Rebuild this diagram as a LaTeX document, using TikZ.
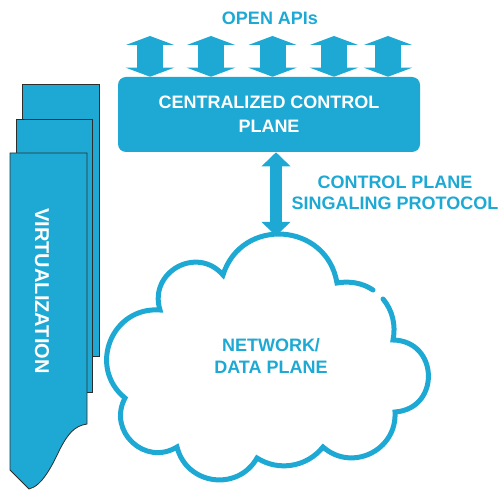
\documentclass[tikz,border=0pt]{standalone}
\usepackage{fontspec}
\setmainfont{Liberation Sans}
\usetikzlibrary{arrows.meta}
\definecolor{sdnblue}{RGB}{29,169,211}

\begin{document}
\begin{tikzpicture}[x=0.75pt,y=0.75pt,yscale=-1,xscale=1,
  bluetext/.style={text=sdnblue,align=center,inner sep=0pt},
  ctrlbox/.style={fill=sdnblue,text=white,rounded corners=6pt,minimum width=226.5pt,minimum height=56.25pt,align=center,inner sep=0pt},
  panel/.style={fill=sdnblue,draw={rgb, 255:red, 45; green, 45; blue, 45 },line width=0.6pt},
  apiarrow/.style={draw=sdnblue,line width=19.5pt,{Triangle[length=6.75pt,width=36pt]}-{Triangle[length=6.75pt,width=36pt]}},
  sigarrow/.style={draw=sdnblue,line width=9pt,{Triangle[length=10.5pt,width=21pt]}-{Triangle[length=10.5pt,width=21pt]}},
  cloudline/.style={draw=sdnblue,line width=3.75pt,line cap=round}
]
%set diagram left start at 0, and has height of 490
\path (0,0) rectangle (503,490);

%Shape: Rectangle (back panel)
\draw[panel] (22,84) rectangle (99,356);
%Shape: Rectangle (middle panel)
\draw[panel] (16,119) rectangle (92,392);
%Shape: Polygon (front panel)
\draw[panel] (10,153) -- (87,153) -- (87,424) .. controls (74,426) and (68,434) .. (60,449) .. controls (52,466) and (42,486) .. (29,489) -- (10,470) -- cycle;
% Text Node
\node[text=white,inner sep=0pt,rotate=-90,font=\fontsize{15}{18}\selectfont\bfseries] (virt) at (42,291) {VIRTUALIZATION};

% Text Node
\node[ctrlbox,font=\fontsize{13.5}{18}\selectfont\bfseries] (ctrl) at (269,114.5) {CENTRALIZED CONTROL\\PLANE};
% Text Node
\node[bluetext,font=\fontsize{13.5}{16}\selectfont\bfseries] (apis) at (270,18) {OPEN APIs};

%Straight Lines (api arrows)
\coordinate (api1) at (150,36);
\coordinate (api2) at (211,36);
\coordinate (api3) at (272.5,36);
\coordinate (api4) at (334,36);
\coordinate (api5) at (388,36);
\draw[apiarrow] (api1 |- ctrl.north) -- (api1);
\draw[apiarrow] (api2 |- ctrl.north) -- (api2);
\draw[apiarrow] (api3 |- ctrl.north) -- (api3);
\draw[apiarrow] (api4 |- ctrl.north) -- (api4);
\draw[apiarrow] (api5 |- ctrl.north) -- (api5);

%Shape: Cloud
\draw[cloudline] (383,299) to[out=49.7,in=-78.4,looseness=0.9] (393,340)
  to[out=1,in=-4.1,looseness=1.63] (395,412)
  to[out=86.8,in=41.4,looseness=1.23] (323,447)
  to[out=128.6,in=32.5,looseness=0.98] (257,458)
  to[out=119.6,in=76,looseness=1.24] (177,447)
  to[out=148.6,in=118,looseness=1.35] (125,398)
  to[out=219.1,in=184.3,looseness=1.31] (160,310)
  to[out=252.8,in=229.1,looseness=1.41] (223,275)
  to[out=-72.5,in=-99.5,looseness=1.38] (337,283)
  to[out=-10.5,in=-145.7,looseness=0.88] (373,290);
\coordinate (cloudtop) at (276,236);
% Text Node
\node[bluetext,font=\fontsize{13.5}{16.5}\selectfont\bfseries] (net) at (271,356) {NETWORK/\\DATA PLANE};

%Straight Lines (signaling arrow)
\draw[sigarrow] (cloudtop |- ctrl.south) -- (cloudtop);
% Text Node
\node[bluetext,font=\fontsize{13.5}{15.75}\selectfont\bfseries] (sig) at (395,192.5) {CONTROL PLANE\\SINGALING PROTOCOL};

\end{tikzpicture}
\end{document}
